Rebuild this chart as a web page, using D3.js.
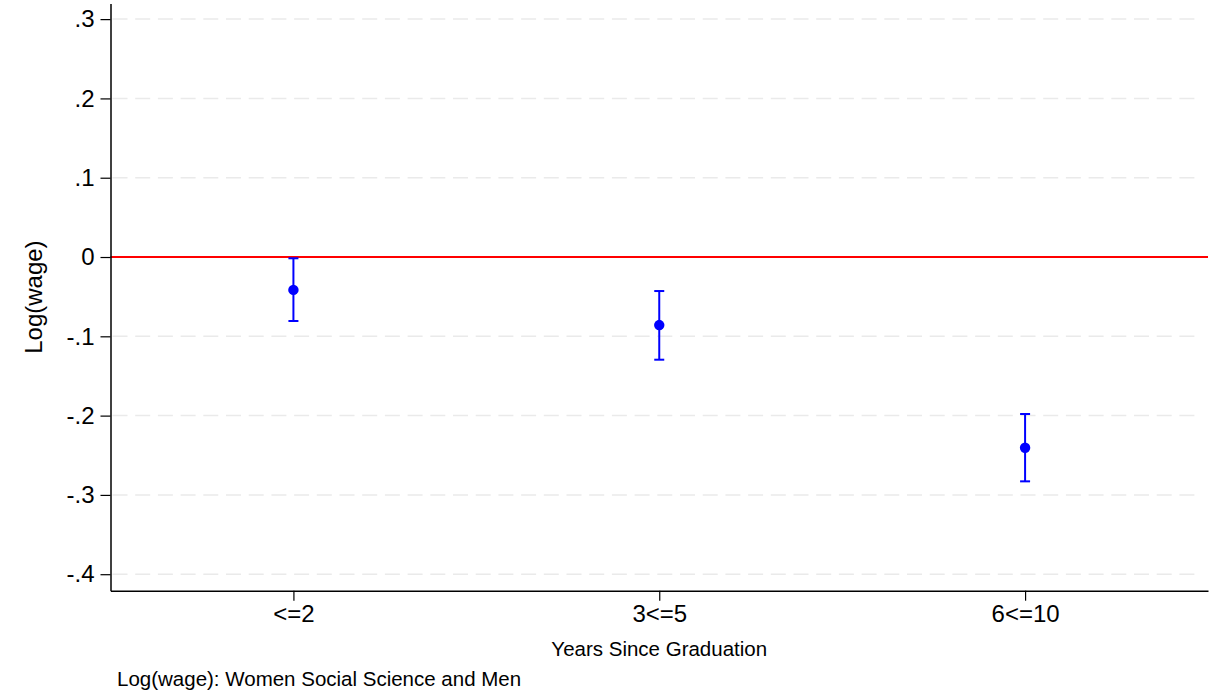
<!DOCTYPE html>
<html>
<head>
<meta charset="utf-8">
<script src="https://cdn.jsdelivr.net/npm/d3@7"></script>
<style>
  html, body { margin: 0; padding: 0; background: #fff; }
  svg { display: block; font-family: "Liberation Sans", Arial, sans-serif; }
</style>
</head>
<body>
<svg id="chart" width="1225" height="692"></svg>
<script>
// Wage gap estimates by years since graduation (point estimate with 95% CI)
const categories = ["<=2", "3<=5", "6<=10"];
const estimates = [-0.0415, -0.0858, -0.2405];
const ciLower = [-0.0807, -0.1295, -0.2829];
const ciUpper = [-0.0016, -0.0429, -0.1980];
const yTicks = [-0.4, -0.3, -0.2, -0.1, 0, 0.1, 0.2, 0.3];
const yTickLabels = ["-.4", "-.3", "-.2", "-.1", "0", ".1", ".2", ".3"];

const svg = d3.select("#chart");
const plotLeft = 110.5, plotRight = 1208, plotTop = 3.5, plotBottom = 590.7;
const fontFamily = "Liberation Sans, Arial, sans-serif";

const x = d3.scaleLinear().domain([0.5, 3.5]).range([plotLeft, plotRight]);
const y = d3.scaleLinear().domain([-0.4208, 0.3197]).range([plotBottom, plotTop]);

// dashed horizontal grid
svg.append("g")
  .selectAll("line")
  .data(yTicks)
  .join("line")
  .attr("x1", plotLeft + 2)
  .attr("x2", plotRight - 6)
  .attr("y1", d => y(d))
  .attr("y2", d => y(d))
  .attr("stroke", "#eaeaea")
  .attr("stroke-width", 1.5)
  .attr("stroke-dasharray", "15,7.7");

// reference line at zero
svg.append("line")
  .attr("x1", plotLeft).attr("x2", plotRight)
  .attr("y1", y(0)).attr("y2", y(0))
  .attr("stroke", "#ff0000")
  .attr("stroke-width", 2);

// y axis
const yAxis = d3.axisLeft(y)
  .tickValues(yTicks)
  .tickFormat((d, i) => yTickLabels[i])
  .tickSize(10)
  .tickPadding(6)
  .tickSizeOuter(0);
const gy = svg.append("g")
  .attr("transform", `translate(${plotLeft},0)`)
  .call(yAxis);
gy.select(".domain").attr("stroke", "#000").attr("stroke-width", 1.5);
gy.selectAll(".tick line").attr("stroke", "#000").attr("stroke-width", 1.2);
gy.selectAll(".tick text")
  .attr("font-size", 24)
  .attr("fill", "#000")
  .attr("font-family", fontFamily);

// x axis
const xAxis = d3.axisBottom(x)
  .tickValues([1, 2, 3])
  .tickFormat((d, i) => categories[i])
  .tickSize(10)
  .tickPadding(4)
  .tickSizeOuter(0);
const gx = svg.append("g")
  .attr("transform", `translate(0,${plotBottom})`)
  .call(xAxis);
gx.select(".domain").attr("stroke", "#000").attr("stroke-width", 1.5);
gx.selectAll(".tick line").attr("stroke", "#000").attr("stroke-width", 1.2);
gx.selectAll(".tick text")
  .attr("font-size", 24)
  .attr("fill", "#000")
  .attr("font-family", fontFamily);

// confidence intervals
const ci = svg.append("g").attr("stroke", "#0000ff").attr("stroke-width", 2);
ci.selectAll("line.bar")
  .data(categories)
  .join("line")
  .attr("class", "bar")
  .attr("x1", (d, i) => x(i + 1)).attr("x2", (d, i) => x(i + 1))
  .attr("y1", (d, i) => y(ciLower[i])).attr("y2", (d, i) => y(ciUpper[i]));
ci.selectAll("line.capLo")
  .data(categories)
  .join("line")
  .attr("class", "capLo")
  .attr("x1", (d, i) => x(i + 1) - 5).attr("x2", (d, i) => x(i + 1) + 5)
  .attr("y1", (d, i) => y(ciLower[i])).attr("y2", (d, i) => y(ciLower[i]));
ci.selectAll("line.capHi")
  .data(categories)
  .join("line")
  .attr("class", "capHi")
  .attr("x1", (d, i) => x(i + 1) - 5).attr("x2", (d, i) => x(i + 1) + 5)
  .attr("y1", (d, i) => y(ciUpper[i])).attr("y2", (d, i) => y(ciUpper[i]));

// point estimates
svg.append("g")
  .selectAll("circle")
  .data(estimates)
  .join("circle")
  .attr("cx", (d, i) => x(i + 1))
  .attr("cy", d => y(d))
  .attr("r", 5.2)
  .attr("fill", "#0000ff");

// titles
svg.append("text")
  .attr("transform", `translate(42,${(plotTop + plotBottom) / 2}) rotate(-90)`)
  .attr("text-anchor", "middle")
  .attr("font-size", 24)
  .attr("font-family", fontFamily)
  .text("Log(wage)");

svg.append("text")
  .attr("x", (plotLeft + plotRight) / 2)
  .attr("y", 656)
  .attr("text-anchor", "middle")
  .attr("font-size", 20.5)
  .attr("font-family", fontFamily)
  .text("Years Since Graduation");

svg.append("text")
  .attr("x", 117)
  .attr("y", 686)
  .attr("font-size", 20.5)
  .attr("font-family", fontFamily)
  .text("Log(wage): Women Social Science and Men");
</script>
</body>
</html>
